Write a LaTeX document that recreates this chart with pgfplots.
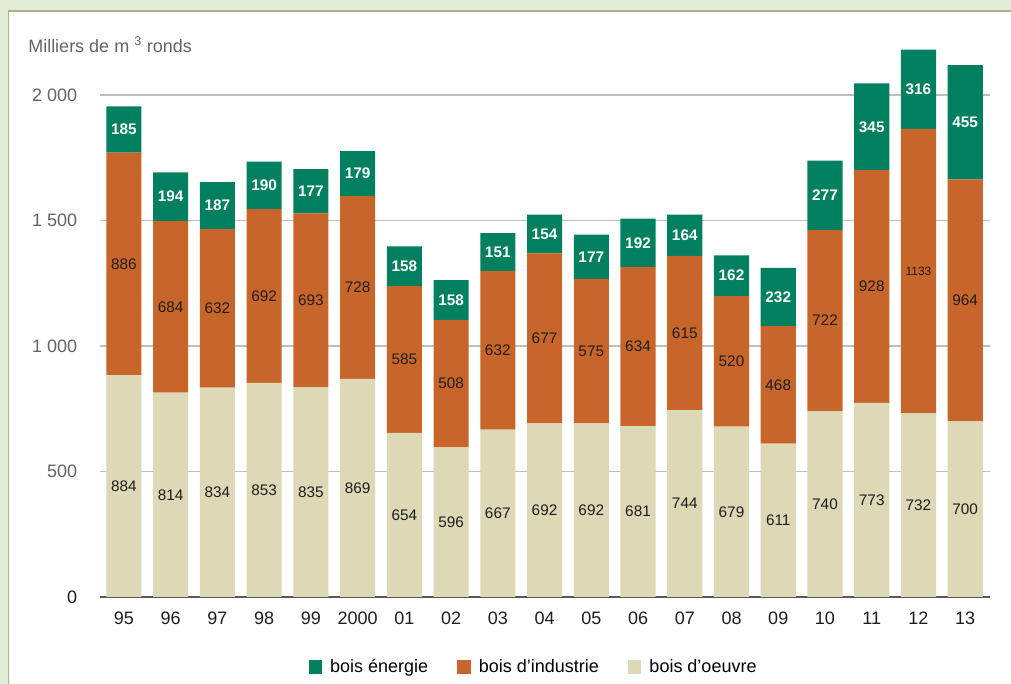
\documentclass[border=0pt]{standalone}
\usepackage{pgfplots}
\pgfplotsset{compat=1.18}
\usepackage{pgfplotstable}
\usepackage{fontspec}
\setmainfont{Liberation Sans}

\definecolor{energie}{RGB}{0,128,94}
\definecolor{industrie}{RGB}{200,101,42}
\definecolor{oeuvre}{RGB}{221,216,181}
\definecolor{outerbg}{RGB}{227,237,214}
\definecolor{panelline}{RGB}{181,173,140}
\definecolor{gridgray}{RGB}{190,190,190}
\definecolor{txtgray}{RGB}{100,100,100}
\definecolor{txtdark}{RGB}{30,30,30}

\newcommand\tickfont{\fontsize{13.5pt}{16pt}\selectfont}
\newcommand\valfont{\fontsize{11.5pt}{13pt}\selectfont}

% x oeuvre industrie energie
\pgfplotstableread{
x  oeuvre industrie energie
0  884 886  185
1  814 684  194
2  834 632  187
3  853 692  190
4  835 693  177
5  869 728  179
6  654 585  158
7  596 508  158
8  667 632  151
9  692 677  154
10 692 575  177
11 681 634  192
12 744 615  164
13 679 520  162
14 611 468  232
15 740 722  277
16 773 928  345
17 732 1133 316
18 700 964  455
}\wood

% 1 px of the reference = 0.75pt
\begin{document}
\begin{tikzpicture}
\useasboundingbox (0pt,0pt) rectangle (758.25pt,513pt);
\fill[outerbg] (0pt,0pt) rectangle (758.25pt,513pt);
\fill[white] (6.4pt,0pt) rectangle (758.25pt,504.75pt);
\draw[panelline, line width=1.2pt] (6.4pt,0pt) -- (6.4pt,504.75pt) -- (758.25pt,504.75pt);
\node[anchor=west, text=txtgray, inner sep=0pt] at (21pt,479.25pt) {\tickfont Milliers de m \textsuperscript{3} ronds};

\begin{axis}[
    at={(75pt,65.25pt)}, anchor=south west,
    scale only axis,
    width=667.5pt, height=423.5625pt,
    ybar stacked, bar width=0.75,
    xmin=-0.51, xmax=18.53,
    ymin=0, ymax=2250,
    axis lines*=left,
    y axis line style={draw=none},
    x axis line style={draw=black!65, line width=1.5pt},
    tick style={draw=none},
    ymajorgrids, grid style={gridgray, line width=0.8pt},
    ytick={0,500,1000,1500,2000},
    yticklabels={\textcolor{txtdark}{0},500,1 000,1 500,2 000},
    yticklabel style={text=txtgray, font=\tickfont, inner sep=0pt, xshift=-17pt},
    xtick={0,...,18},
    xticklabels={95,96,97,98,99,2000,01,02,03,04,05,06,07,08,09,10,11,12,13},
    xticklabel style={text=txtdark, font=\tickfont, inner sep=0pt, yshift=-11pt},
    sq legend/.style={legend image code/.code={\fill[##1] (0pt,-5pt) rectangle (10pt,5pt); \path (14pt,0pt);}},
    reverse legend,
    legend columns=3,
    legend style={at={(0.4876,-0.124)}, anchor=center, draw=none, fill=none,
        font=\tickfont, /tikz/every even column/.append style={column sep=20pt}},
    nodes near coords,
    point meta=explicit symbolic,
    visualization depends on={rawy \as \myv},
]
\addplot[fill=oeuvre, draw=none, sq legend,
    every node near coord/.append style={anchor=center, text=txtdark, font=\valfont}]
    table[x=x, y=oeuvre, meta=oeuvre] {\wood};
\addplot[fill=industrie, draw=none, sq legend,
    every node near coord/.append style={anchor=center, text=txtdark,
        font={\ifdim\myv pt>1000pt\fontsize{9pt}{10pt}\selectfont\else\valfont\fi}}]
    table[x=x, y=industrie, meta=industrie] {\wood};
\addplot[fill=energie, draw=none, sq legend,
    every node near coord/.append style={anchor=center, text=white, font=\valfont\bfseries}]
    table[x=x, y=energie, meta=energie] {\wood};
\legend{bois d'oeuvre, bois d'industrie, bois énergie}
\end{axis}
\end{tikzpicture}
\end{document}
